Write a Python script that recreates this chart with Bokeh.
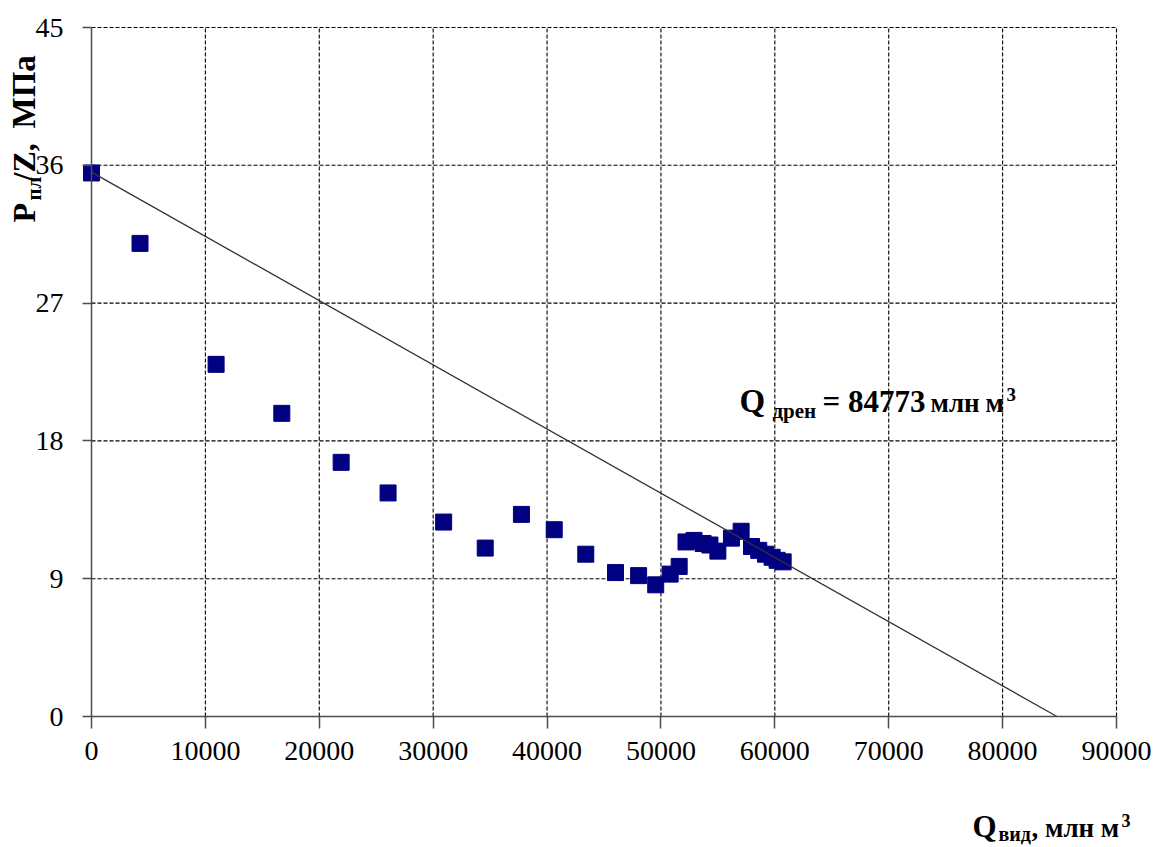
import math
from bokeh.plotting import figure
from bokeh.models import Label, FixedTicker, NumeralTickFormatter, Range1d
from bokeh.embed import file_html
from bokeh.resources import INLINE

# ---- data ----
q_cum = [0, 4260, 10940, 16710, 21920, 26040, 30920, 34570, 37750, 40630,
         43400, 46010, 48040, 49540, 50810, 51600, 52200, 52900, 53700,
         54300, 55000, 56190, 57040, 57950, 58590, 59180, 59760, 60200, 60730]
p_z = [35.5, 30.9, 23.0, 19.8, 16.6, 14.6, 12.7, 11.0, 13.2, 12.2,
       10.6, 9.4, 9.2, 8.6, 9.3, 9.8, 11.4, 11.5, 11.3,
       11.2, 10.8, 11.65, 12.1, 11.1, 10.85, 10.6, 10.4, 10.2, 10.1]

trend_p0 = 35.55          # intercept of the trend line, MPa
q_drain = 84773           # Q_дрен, млн м3
trend_x = [0, q_drain]
trend_y = [trend_p0, 0]

x_ticks = [0, 10000, 20000, 30000, 40000, 50000, 60000, 70000, 80000, 90000]
y_ticks = [0, 9, 18, 27, 36, 45]
x_max, y_max = 90000, 45

# ---- layout (pixels) ----
W, H = 1154, 846
LEFT, RIGHT, TOP, BOTTOM = 91, 1116, 27, 716      # plot area edges
kx = (RIGHT - LEFT) / x_max
ky = (BOTTOM - TOP) / y_max
x_range = Range1d(-LEFT / kx, (W - LEFT) / kx)
y_range = Range1d(-(H - BOTTOM) / ky, (BOTTOM) / ky)

SERIF = "Liberation Serif"

p = figure(width=W, height=H, output_backend="svg", toolbar_location=None,
           x_range=x_range, y_range=y_range, min_border=0,
           min_border_left=0, min_border_right=0, min_border_top=0, min_border_bottom=0)
p.outline_line_color = None
p.background_fill_color = "white"
p.border_fill_color = "white"
p.grid.visible = False

for ax, ticks, bnd in ((p.xaxis[0], x_ticks, (0, x_max)), (p.yaxis[0], y_ticks, (0, y_max))):
    ax.fixed_location = 0
    ax.bounds = bnd
    ax.ticker = FixedTicker(ticks=ticks)
    ax.axis_line_color = "#4d4d4d"
    ax.axis_line_width = 1.5
    ax.major_tick_line_color = "#4d4d4d"
    ax.major_tick_line_width = 1.5
    ax.major_tick_in = 0
    ax.minor_tick_line_color = None
    ax.major_label_text_font = SERIF
    ax.major_label_text_font_size = "28px"
    ax.major_label_text_color = "black"
p.xaxis[0].formatter = NumeralTickFormatter(format="0")
p.xaxis[0].major_tick_out = 12
p.xaxis[0].major_label_standoff = 13
p.yaxis[0].major_tick_out = 9
p.yaxis[0].major_label_standoff = 19

# dashed grid inside the plot area
gx = x_ticks[1:]
p.segment(x0=gx, y0=[0] * len(gx), x1=gx, y1=[y_max] * len(gx),
          line_color="black", line_width=1.1, line_dash="4 2")
gy = y_ticks[1:]
p.segment(x0=[0] * len(gy), y0=gy, x1=[x_max] * len(gy), y1=gy,
          line_color="black", line_width=1.1, line_dash="4 2")

p.scatter(q_cum, p_z, marker="square", size=16, fill_color="#000080",
          line_color="#000080", line_width=1)
p.line(trend_x, trend_y, line_color="#333333", line_width=1.3)

bold = dict(text_font=SERIF, text_font_style="bold", text_color="black",
            text_baseline="alphabetic", text_align="left")


def txt(px, py, text, size, rotated=False):
    """place a text with its baseline at canvas pixel (px, py), y from top"""
    shift = 0.36 * size          # measured baseline offset of the renderer
    if rotated:
        px, angle = px - shift, math.pi / 2
    else:
        py, angle = py - shift, 0.0
    p.add_layout(Label(x=px, y=H - py, x_units="screen", y_units="screen",
                       text=text, text_font_size=f"{size}px", angle=angle, **bold))


# ---- annotation Q_дрен ----
txt(739, 412, "Q", 33)
txt(772, 418, "дрен", 21)
txt(822, 412, "= 84773", 31)
txt(930, 412, "млн", 27)
txt(985, 412, "м", 27)
txt(1006, 401, "3", 19)

# ---- x axis title ----
txt(972, 837, "Q", 31)
txt(998, 841, "вид", 20)
txt(1031, 837, ", млн м", 27)
txt(1121, 826, "3", 18)

# ---- y axis title (rotated, reads bottom to top) ----
txt(35, 222, "P", 32, True)
txt(41, 200, "пл", 21, True)
txt(35, 181, "/Z,", 32, True)
txt(35, 128, "МПа", 33, True)

open("out.html", "w").write(file_html(p, INLINE))
